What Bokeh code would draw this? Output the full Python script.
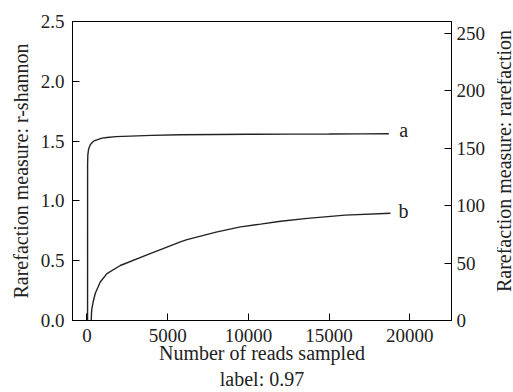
from bokeh.plotting import figure
from bokeh.layouts import row
from bokeh.models import Range1d, LinearAxis, FixedTicker, PrintfTickFormatter, ColumnDataSource, Div
from bokeh.core.properties import value
from bokeh.embed import file_html
from bokeh.resources import INLINE

# curve a: r-shannon (left axis)
a_x = [40, 42, 55, 100, 205, 410, 620, 930, 1240, 1800, 2690, 4000, 5790, 8000, 10000, 12500, 15000, 17000, 18700]
a_y = [0, 1.30, 1.38, 1.43, 1.47, 1.50, 1.51, 1.525, 1.53, 1.537, 1.542, 1.548, 1.553, 1.555, 1.557, 1.558, 1.559, 1.560, 1.561]
# curve b: rarefaction (right axis)
b_x = [270, 280, 310, 400, 515, 825, 1240, 2066, 3720, 5790, 6200, 8000, 9510, 10750, 12000, 13650, 16000, 18800]
b_y = [0, 6, 10.6, 17, 23.5, 33.6, 40.8, 47.9, 57.2, 68.5, 70.5, 77, 81.6, 84, 86.5, 89, 91.8, 93.5]

x_ticks = [0, 5000, 10000, 15000, 20000]
left_ticks = [0.0, 0.5, 1.0, 1.5, 2.0, 2.5]
right_ticks = [0, 50, 100, 150, 200, 250]
curve_labels = ["a", "b"]
x_title = "Number of reads sampled\nlabel: 0.97"
left_title = "Rarefaction measure: r-shannon"
right_title = "Rarefaction measure: rarefaction"

FONT = "Liberation Serif"
INK = "#222222"

p = figure(width=497, height=392, output_backend="svg", toolbar_location=None,
           x_range=Range1d(-893, 22580), y_range=Range1d(0, 2.5),
           min_border_left=72, min_border_right=46, min_border_top=21, min_border_bottom=70)
p.extra_y_ranges = {"r": Range1d(0, 260.5)}
p.grid.visible = False
p.outline_line_color = "black"
p.outline_line_width = 1
p.background_fill_color = "white"
p.border_fill_color = "white"

p.line(a_x, a_y, line_color=INK, line_width=1.4)
p.line(b_x, b_y, line_color=INK, line_width=1.4, y_range_name="r")

src_a = ColumnDataSource(dict(x=[19350], y=[a_y[-1] + 0.03], t=[curve_labels[0]]))
src_b = ColumnDataSource(dict(x=[19300], y=[b_y[-1] + 2.0], t=[curve_labels[1]]))
p.text("x", "y", text="t", source=src_a, text_font=value(FONT), text_font_size="20px",
       text_color=INK, text_baseline="middle", text_align="left")
p.text("x", "y", text="t", source=src_b, text_font=value(FONT), text_font_size="20px",
       text_color=INK, text_baseline="middle", text_align="left", y_range_name="r")

right = LinearAxis(y_range_name="r")
p.add_layout(right, "right")

p.xaxis.ticker = FixedTicker(ticks=x_ticks)
p.xaxis.axis_label = x_title
p.yaxis[0].ticker = FixedTicker(ticks=left_ticks)
p.yaxis[0].formatter = PrintfTickFormatter(format="%.1f")
p.yaxis[0].axis_label = left_title
right.ticker = FixedTicker(ticks=right_ticks)

for ax in [p.xaxis[0], p.yaxis[0], right]:
    ax.major_tick_in = 7
    ax.major_tick_out = 0
    ax.minor_tick_in = 0
    ax.minor_tick_out = 0
    ax.axis_line_color = "black"
    ax.major_tick_line_color = "black"
    ax.major_label_text_font = FONT
    ax.major_label_text_font_size = "19px"
    ax.major_label_text_color = INK
    ax.axis_label_text_font = FONT
    ax.axis_label_text_font_size = "20px"
    ax.axis_label_text_font_style = "normal"
    ax.axis_label_text_color = INK

p.yaxis[0].major_label_standoff = 8
p.yaxis[0].axis_label_standoff = 6
right.major_label_standoff = 5
p.xaxis[0].major_label_standoff = 8
p.xaxis[0].axis_label_standoff = -3

# right-axis title, reading bottom to top, in a narrow strip beside the plot
html = ('<div style="position:relative;width:16px;height:392px;overflow:hidden;margin:0;padding:0;">'
        '<div style="position:absolute;left:6.5px;top:161px;transform:translate(-50%,-50%) rotate(-90deg);'
        "white-space:nowrap;font-family:'Liberation Serif';font-size:20px;line-height:14px;color:#222222;\">"
        + right_title + '</div></div>')
div = Div(text=html, width=16, height=392, margin=0)

layout = row(p, div, spacing=0)
open("out.html", "w").write(file_html(layout, INLINE))
